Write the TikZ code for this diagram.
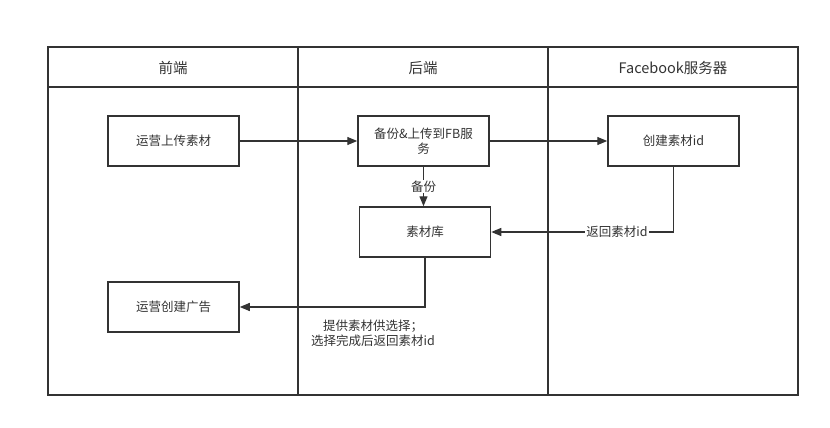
\documentclass[tikz,border=0pt]{standalone}
\usepackage{fontspec}
\setmainfont{Noto Sans CJK SC}
\usetikzlibrary{arrows.meta}
\definecolor{ink}{HTML}{333333}
\begin{document}
\begin{tikzpicture}[x=1pt,y=-1pt,
  lane/.style={draw=ink,line width=1.5pt},
  box/.style={draw=ink,line width=1.5pt,minimum width=131pt,minimum height=50pt,inner sep=2pt,align=center,font=\fontsize{12.5}{15}\selectfont,text=ink},
  hdr/.style={font=\fontsize{14.5}{16}\selectfont,text=ink},
  conn/.style={draw=ink,line width=1.3pt,-{Triangle[length=10pt,width=8pt]}},
  lbl/.style={fill=white,inner sep=1pt,font=\fontsize{12.5}{15}\selectfont,text=ink}]
\useasboundingbox (0,0) rectangle (830,428);
\draw[lane] (48,47) rectangle (798,395);
\draw[lane] (48,87) -- (798,87);
\draw[lane] (298,47) -- (298,395);
\draw[lane] (548,47) -- (548,395);
\node[hdr] (h1) at (173,68) {前端};
\node[hdr] (h2) at (423,68) {后端};
\node[hdr] (h3) at (673,68) {Facebook服务器};
\node[box] (b1) at (173.5,141) {运营上传素材};
\node[box] (b2) at (423.5,141) {备份\&上传到FB服\\务};
\node[box] (b3) at (673.5,141) {创建素材id};
\node[box] (b4) at (425,232) {素材库};
\node[box] (b5) at (173.5,307) {运营创建广告};
\draw[conn] (b1) -- (b2);
\draw[conn] (b2) -- (b3);
\draw[conn] (b2.south) -- node[lbl] {备份} (b2.south |- b4.north);
\coordinate (c1) at (b3.south |- b4.east);
\draw[conn] (b3.south) -- (c1) -- node[lbl,pos=0.31] {返回素材id} (b4.east);
\coordinate (c2) at (b4.south |- b5.east);
\draw[conn] (b4.south) -- (c2) -- (b5.east);
\node[font=\fontsize{12.5}{15}\selectfont,text=ink,align=center] (t1) at (373,333) {提供素材供选择；\\选择完成后返回素材id};
\end{tikzpicture}
\end{document}
